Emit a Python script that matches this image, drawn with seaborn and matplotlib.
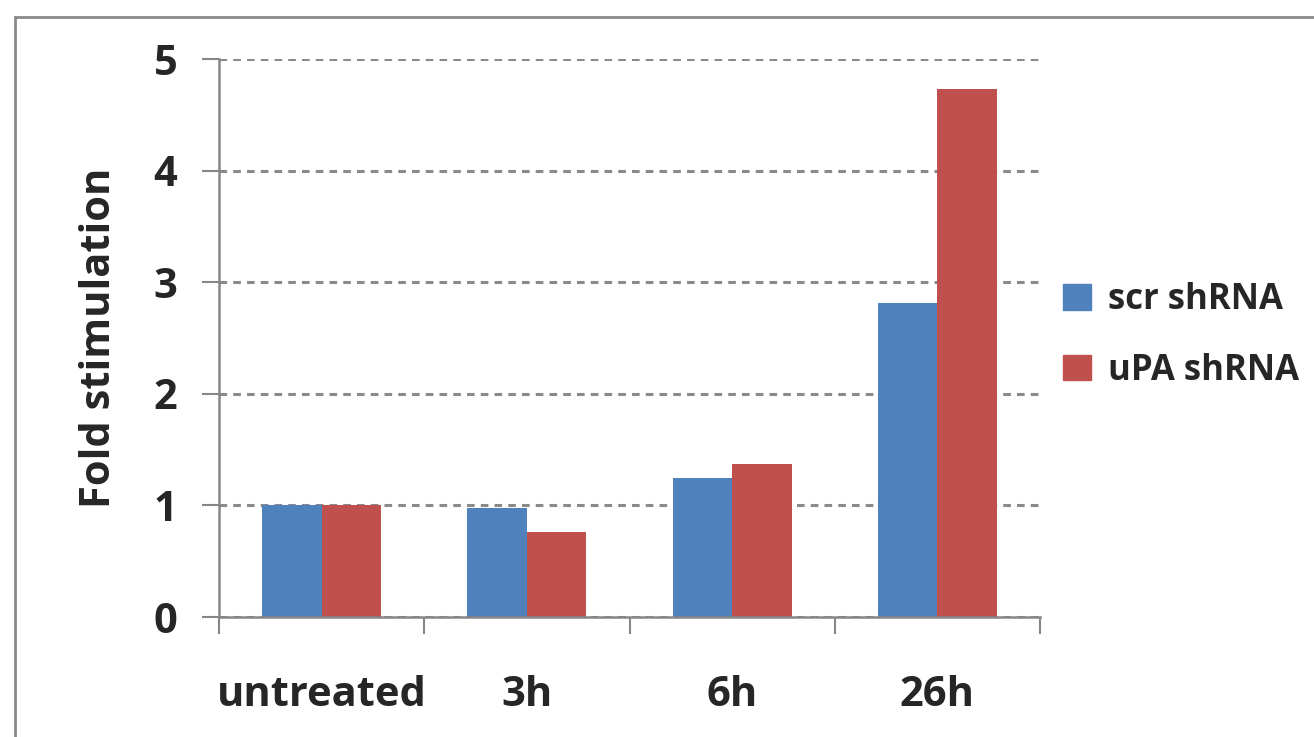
import matplotlib
matplotlib.use("Agg")
import matplotlib.pyplot as plt
import matplotlib.patches as mpatches
import seaborn as sns
import pandas as pd

# Fold stimulation per time point for the two shRNA constructs
categories = ["untreated", "3h", "6h", "26h"]
scr_shrna = [1.0, 0.98, 1.25, 2.81]
upa_shrna = [1.0, 0.76, 1.37, 4.73]
series_names = ["scr shRNA", "uPA shRNA"]
y_ticks = [0, 1, 2, 3, 4, 5]

df = pd.DataFrame({
    "time": categories * 2,
    "value": scr_shrna + upa_shrna,
    "series": [series_names[0]] * 4 + [series_names[1]] * 4,
})

sns.set_theme(style="white")
plt.rcParams["font.family"] = ["Open Sans", "DejaVu Sans"]

fig = plt.figure(figsize=(13.14, 7.37), dpi=100)
ax = fig.add_axes([0.1667, 0.1628, 0.6248, 0.757])

palette = {"scr shRNA": "#4F81BD", "uPA shRNA": "#C0504D"}
sns.barplot(data=df, x="time", y="value", hue="series", order=categories,
            hue_order=series_names, palette=palette, width=0.58,
            saturation=1, ax=ax, legend=False, linewidth=0, errorbar=None)

ax.set_ylim(0, 5)
ax.set_xlim(-0.5, 3.5)
ax.set_yticks(y_ticks)
ax.set_yticklabels([str(t) for t in y_ticks], fontsize=30, fontweight="bold")
ax.yaxis.grid(True, linestyle=(0, (2.5, 2.0)), color="#8a8a8a", linewidth=2.2)
ax.set_axisbelow(True)

# category boundaries carry the x tick marks
ax.set_xticks([-0.5, 0.5, 1.5, 2.5, 3.5], minor=True)
ax.tick_params(axis="x", which="minor", length=12, width=1.5, color="#868686",
               direction="out", bottom=True)
ax.tick_params(axis="x", which="major", length=0, pad=42)
ax.set_xticks(range(len(categories)))
ax.set_xticklabels(categories, fontsize=30, fontweight="bold")
ax.tick_params(axis="y", which="major", length=12, width=1.5, color="#868686",
               direction="out", left=True, pad=18)

ax.set_xlabel("")
ax.set_ylabel("Fold stimulation", fontsize=30, fontweight="bold", labelpad=24)

for side in ["top", "right"]:
    ax.spines[side].set_visible(False)
for side in ["left", "bottom"]:
    ax.spines[side].set_color("#868686")
    ax.spines[side].set_linewidth(1.8)

handles = [mpatches.Patch(color=palette[s], label=s) for s in series_names]
fig.legend(handles=handles, loc="center left", bbox_to_anchor=(0.785, 0.545),
           frameon=False, prop={"size": 25, "weight": "bold"},
           handlelength=0.8, handleheight=0.75, handletextpad=0.5,
           labelspacing=1.0)

# outer chart-area frame
fig.patches.append(mpatches.Rectangle((15 / 1314, -0.05), 1.1, 1 - 17 / 737 + 0.05,
                                      transform=fig.transFigure, fill=False,
                                      edgecolor="#8a8a8a", linewidth=2))

fig.savefig("out.png", dpi=100)
